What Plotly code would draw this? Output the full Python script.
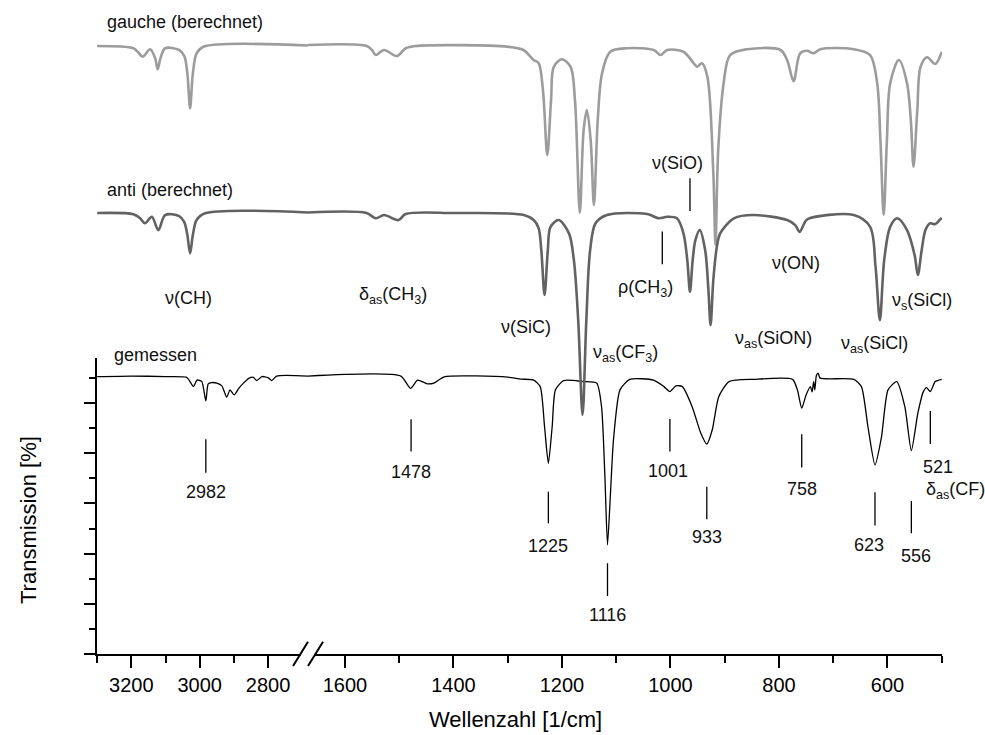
import plotly.graph_objects as go

# ---------------- spectra (wavenumber in 1/cm, transmission in offset %) ----------------
# measured spectrum, high-wavenumber segment and fingerprint segment
meas_left_wn = [3300, 3200, 3100, 3040, 3033, 3018, 3008, 2994, 2982, 2975, 2965, 2950, 2935,
                2921, 2911, 2899, 2885, 2872, 2855, 2843, 2833, 2818, 2800, 2789, 2775, 2683]
meas_left_t = [110.6, 110.8, 110.6, 110.4, 109.6, 106.6, 109.2, 108.7, 100.9, 107.7, 108.2, 108.0, 106.9,
               102.4, 105.3, 103.3, 106.0, 108.0, 110.0, 110.3, 109.0, 110.6, 110.2, 109.0, 110.8, 110.8]
meas_right_wn = [1668, 1497, 1479, 1466, 1448, 1436, 1417, 1300, 1276, 1252, 1240, 1232, 1225, 1218,
                 1212, 1197, 1160, 1136, 1127, 1121, 1116, 1111, 1105, 1093, 1075, 1031, 1012, 1001,
                 990, 978, 960, 944, 933, 923, 911, 892, 847, 775, 766, 758, 750, 742, 739, 736, 734,
                 731, 728, 724, 662, 648, 636, 623, 611, 599, 583, 568, 556, 544, 534, 528, 521, 512, 500]
meas_right_t = [110.8, 110.8, 105.9, 109.2, 107.7, 108.0, 110.5, 110.4, 109.6, 109.2, 106.6, 90.6, 76.0, 90.6,
                105.3, 109.0, 108.6, 108.0, 98.6, 72.0, 43.5, 62.0, 85.3, 105.3, 109.5, 109.2, 106.6, 104.6,
                106.9, 106.6, 98.6, 88.0, 83.7, 89.3, 102.6, 108.6, 109.5, 109.5, 105.3, 98.0, 103.3, 106.6,
                104.5, 108.6, 105.3, 111.0, 112.0, 110.0, 109.5, 106.6, 90.6, 75.4, 86.6, 105.3, 108.6, 98.6,
                81.1, 96.0, 104.5, 106.2, 104.6, 108.6, 109.5]

# calculated spectrum, anti conformer
anti_left_wn = [3300, 3194, 3175, 3160, 3140, 3121, 3101, 3060, 3045, 3036, 3028, 3020, 3009, 2984, 2683]
anti_left_t = [100, 99.5, 98, 95.9, 98.5, 93.2, 99.2, 98.8, 96.4, 91.2, 83.9, 91.2, 97.2, 99.9, 100.2]
anti_right_wn = [1668, 1560, 1543, 1528, 1501, 1488, 1400, 1270, 1252, 1243, 1238, 1232, 1226, 1221, 1206,
                 1187, 1178, 1170, 1162, 1155, 1148, 1138, 1117, 1043, 1021, 1006, 988, 976, 969, 964, 959,
                 954, 946, 936, 930, 926, 921, 914, 908, 883, 847, 785, 770, 762, 754, 748, 662, 632, 622,
                 614, 606, 595, 582, 564, 550, 544, 537, 530, 522, 512, 504, 500]
anti_right_t = [100.2, 100, 97.9, 99.2, 97.2, 99.6, 100, 99.2, 97.2, 94, 85.2, 67.3, 85.2, 94.5, 97.2,
                91.9, 81.3, 57.3, 19.5, 57.3, 85.2, 95.9, 99.2, 99.6, 97.9, 98.5, 97.9, 91.9, 81.3, 68.6, 81.3,
                89.2, 93.2, 85.2, 69.3, 55.3, 73.3, 87.2, 92, 97.9, 99.2, 97.2, 95.2, 92.5, 95.6, 97.5, 99.2,
                94.5, 78.6, 57.3, 81.3, 94.5, 97.9, 93.2, 83.3, 75.3, 85.2, 93.2, 95.9, 95.6, 97.2, 98]

# calculated spectrum, gauche conformer
gauche_left_wn = [3300, 3194, 3180, 3167, 3145, 3130, 3123, 3115, 3101, 3060, 3045, 3036, 3028, 3020,
                  3009, 2989, 2683]
gauche_left_t = [100, 99.1, 97.5, 95.7, 98.7, 95, 90.7, 95, 99.1, 98.4, 96, 89, 75.2, 89, 97.1, 99.7, 100.2]
gauche_right_wn = [1668, 1560, 1550, 1543, 1528, 1504, 1488, 1470, 1300, 1271, 1252, 1243, 1235, 1227,
                   1220, 1215, 1200, 1184, 1176, 1167, 1160, 1154, 1147, 1141, 1134, 1126, 1111, 1080, 1031,
                   1018, 1006, 976, 957, 951, 942, 932, 921, 917, 912, 902, 890, 859, 797, 785, 773, 761,
                   748, 736, 724, 662, 632, 619, 613, 607, 601, 595, 579, 564, 557, 552, 545, 539, 527, 512, 500]
gauche_right_t = [100.4, 100, 98.4, 96.4, 98.4, 96, 99.1, 100, 99.7, 98.4, 94.4, 93.2, 82.5, 56.5,
                  78.5, 91.7, 94.7, 91.7, 78.5, 33.5, 66.5, 74.5, 62.5, 36.6, 70.5, 89.1, 97.7, 99.1, 98.4,
                  96.4, 98.4, 97.7, 93.1, 91.7, 93.1, 87.8, 49.4, 20.7, 58.5, 85.1, 96.4, 98.7, 98.4, 94.4,
                  86, 97.1, 98.1, 97.1, 98.7, 98.7, 96.4, 85.2, 62.5, 32.6, 62.5, 85.1, 94.4, 85.2, 70.5,
                  51.9, 74.5, 91.7, 95.5, 92.8, 97.6]

# measured band positions that get a marker line and a number
peak_wn = [2982, 1478, 1225, 1116, 1001, 933, 758, 623, 556, 521]

# band assignments
assign_text = ["ν(CH)", "δ<sub>as</sub>(CH<sub>3</sub>)", "ν(SiC)", "ν<sub>as</sub>(CF<sub>3</sub>)",
               "ρ(CH<sub>3</sub>)", "ν(SiO)", "ν(ON)", "ν<sub>as</sub>(SiON)", "ν<sub>s</sub>(SiCl)",
               "ν<sub>as</sub>(SiCl)", "δ<sub>as</sub>(CF)"]
assign_wn = [3033, 1512, 1267, 1083, 1046, 987, 768, 810, 536, 624, 521]

# offsets that stack the calculated spectra above the measured one
ANTI_OFFSET = 75.8
GAUCHE_OFFSET = 142.4

# ---------------- layout geometry ----------------
Y_TOP = 118.0
Y_DOM = 0.4596
D_SPLIT = 0.2497
FONT = "Arial, 'Liberation Sans', sans-serif"

fig = go.Figure()

def add_spec(x_left, y_left, x_right, y_right, yref, color, width, smooth):
    for xs, ys, xa in ((x_left, y_left, "x"), (x_right, y_right, "x2")):
        fig.add_trace(go.Scatter(x=xs, y=ys, xaxis=xa, yaxis=yref, mode="lines",
                                 line=dict(color=color, width=width, shape="spline", smoothing=smooth),
                                 hoverinfo="skip", showlegend=False))

add_spec(gauche_left_wn, [v + GAUCHE_OFFSET for v in gauche_left_t],
         gauche_right_wn, [v + GAUCHE_OFFSET for v in gauche_right_t], "y2", "#9c9c9c", 2.6, 0.9)
add_spec(meas_left_wn, meas_left_t, meas_right_wn, meas_right_t, "y", "#000000", 1.3, 0.6)
add_spec(anti_left_wn, [v + ANTI_OFFSET for v in anti_left_t],
         anti_right_wn, [v + ANTI_OFFSET for v in anti_right_t], "y2", "#626262", 2.6, 0.9)

# marker lines and numbers for the measured bands: (line top, line bottom, text centre, x shift)
peak_place = [(85.6, 72.3, 64.6, 0), (93.6, 80.7, 72.7, 0), (64.7, 52.1, 43.1, 0),
              (36.2, 23.1, 15.6, 0), (93.7, 80.7, 73.1, -2), (66.7, 53.7, 46.5, 0),
              (87.6, 74.4, 65.8, 0), (64.5, 51.2, 43.5, -6), (61.0, 48.1, 39.1, 5),
              (96.9, 83.7, 74.7, 8)]
annotations = []
for wn, (top, bot, txt, dx) in zip(peak_wn, peak_place):
    xa = "x" if wn > 2000 else "x2"
    fig.add_trace(go.Scatter(x=[wn, wn], y=[top, bot], xaxis=xa, yaxis="y2", mode="lines",
                             line=dict(color="black", width=1.3), hoverinfo="skip", showlegend=False))
    annotations.append(dict(x=wn, y=txt, xref=xa, yref="y2", text=str(wn), showarrow=False,
                            xanchor="center", yanchor="middle", xshift=dx,
                            font=dict(size=18, color="#111111", family=FONT)))

# assignment labels: (y centre, x shift)
assign_place = [(141.8, 0), (143.1, 0), (130.5, 0), (120.0, 0), (145.9, 0), (195.7, 0),
                (155.8, 0), (125.2, 0), (140.4, 0), (123.2, 0), (65.1, 25)]
for txt, wn, (yc, dx) in zip(assign_text, assign_wn, assign_place):
    xa = "x" if wn > 2000 else "x2"
    annotations.append(dict(x=wn, y=yc, xref=xa, yref="y2", text=txt, showarrow=False,
                            xanchor="center", yanchor="middle", xshift=dx,
                            font=dict(size=18, color="#111111", family=FONT)))

# short lines pointing at the weak calculated bands
for wn, top, bot in ((1015, 168.4, 155.4), (964, 189.7, 176.6)):
    fig.add_trace(go.Scatter(x=[wn, wn], y=[top, bot], xaxis="x2", yaxis="y2", mode="lines",
                             line=dict(color="black", width=1.3), hoverinfo="skip", showlegend=False))

# spectrum names
for txt, wn, yc in (("gauche (berechnet)", 3277, 252.0), ("anti (berechnet)", 3277, 185.0),
                    ("gemessen", 3256, 119.2)):
    annotations.append(dict(x=wn, y=yc, xref="x", yref="y2", text=txt, showarrow=False,
                            xanchor="left", yanchor="middle",
                            font=dict(size=18, color="#111111", family=FONT)))

# axis titles
annotations.append(dict(x=0.4947, y=-0.101, xref="paper", yref="paper", text="Wellenzahl [1/cm]",
                        showarrow=False, xanchor="center", yanchor="middle",
                        font=dict(size=22, color="black", family=FONT)))
annotations.append(dict(x=-0.0817, y=0.208, xref="paper", yref="paper", text="Transmission [%]",
                        showarrow=False, xanchor="center", yanchor="middle", textangle=-90,
                        font=dict(size=22, color="black", family=FONT)))

axis_common = dict(showgrid=False, zeroline=False, showline=True, linecolor="black", linewidth=2,
                   ticks="outside", tickcolor="black", tickwidth=2, ticklen=12,
                   tickfont=dict(size=20, color="black", family=FONT))

fig.update_layout(
    width=985, height=735, autosize=False,
    margin=dict(l=97, r=43, t=10, b=81),
    paper_bgcolor="white", plot_bgcolor="rgba(0,0,0,0)",
    showlegend=False, font=dict(family=FONT),
    xaxis=dict(domain=[0, D_SPLIT], range=[3300.5, 2683], anchor="y", dtick=200, tick0=0,
               minor=dict(tickmode="array", tickvals=[3300, 3100, 2900], ticks="outside",
                          ticklen=7, tickwidth=2, tickcolor="black"),
               **axis_common),
    xaxis2=dict(domain=[D_SPLIT, 1], range=[1668, 499.5], anchor="y", dtick=200, tick0=0,
                minor=dict(dtick=100, tick0=0, ticks="outside", ticklen=7, tickwidth=2,
                           tickcolor="black"),
                **axis_common),
    yaxis=dict(domain=[0, Y_DOM], range=[0, Y_TOP], anchor="x", dtick=20, tick0=0,
               showticklabels=False, showgrid=False, zeroline=False, showline=True,
               linecolor="black", linewidth=2, ticks="outside", tickcolor="black",
               tickwidth=2, ticklen=11,
               minor=dict(dtick=10, tick0=0, ticks="outside", ticklen=6, tickwidth=2,
                          tickcolor="black")),
    yaxis2=dict(domain=[0, 1], range=[0, Y_TOP / Y_DOM], anchor="x", visible=False),
    annotations=annotations,
    shapes=[
        # axis break: gap in the axis line and two slashes
        dict(type="rect", xref="paper", yref="paper", x0=0.2414, x1=0.2580, y0=-0.008, y1=0.008,
             fillcolor="white", line=dict(width=0), layer="above"),
        dict(type="line", xref="paper", yref="paper", x0=0.2320, y0=-0.0186, x1=0.2497, y1=0.0191,
             line=dict(color="black", width=2), layer="above"),
        dict(type="line", xref="paper", yref="paper", x0=0.2497, y0=-0.0186, x1=0.2675, y1=0.0191,
             line=dict(color="black", width=2), layer="above"),
    ],
)

fig.write_html("out.html")
